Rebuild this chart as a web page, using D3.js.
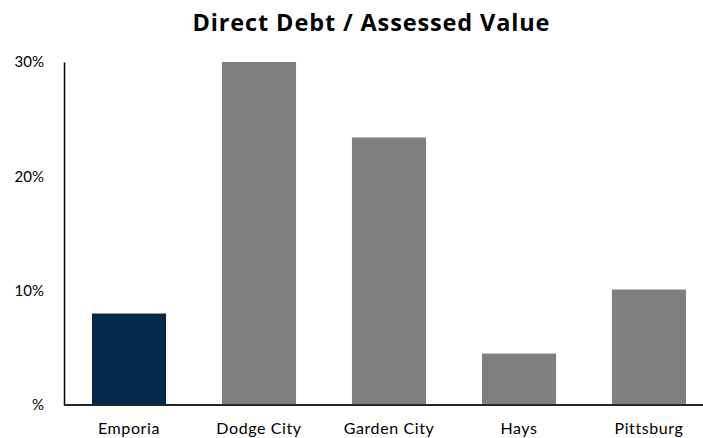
<!DOCTYPE html>
<html>
<head>
<meta charset="utf-8">
<script src="https://cdn.jsdelivr.net/npm/d3@7"></script>
<style>
  body { margin: 0; background: #fff; }
  text { font-family: Lato, "Open Sans", sans-serif; }
</style>
</head>
<body>
<div id="chart"></div>
<script>
const cities = ["Emporia", "Dodge City", "Garden City", "Hays", "Pittsburg"];
const debtRatio = [8.0, 30.0, 23.4, 4.5, 10.1];
const barColors = ["#03284a", "#7f7f7f", "#7f7f7f", "#7f7f7f", "#7f7f7f"];
const tickValues = [0, 10, 20, 30];
const tickLabels = ["%", "10%", "20%", "30%"];

const width = 703, height = 438;

const svg = d3.select("#chart").append("svg")
  .attr("width", width)
  .attr("height", height);

const x = d3.scaleBand()
  .domain(cities)
  .range([64, 714])
  .paddingInner(0.43)
  .paddingOuter(0.215);

const y = d3.scaleLinear()
  .domain([0, 30])
  .range([405, 62]);

// title
svg.append("text")
  .attr("x", 371)
  .attr("y", 31)
  .attr("text-anchor", "middle")
  .attr("textLength", 357)
  .attr("lengthAdjust", "spacing")
  .style("font-family", "'Open Sans', sans-serif")
  .style("font-size", "23.5px")
  .style("font-weight", "bold")
  .attr("fill", "#000")
  .text("Direct Debt / Assessed Value");

// bars
svg.selectAll(".bar")
  .data(cities)
  .enter().append("rect")
  .attr("class", "bar")
  .attr("x", d => x(d))
  .attr("width", x.bandwidth())
  .attr("y", (d, i) => y(debtRatio[i]))
  .attr("height", (d, i) => y(0) - y(debtRatio[i]))
  .attr("fill", (d, i) => barColors[i]);

// y axis
const yAxis = svg.append("g")
  .attr("transform", "translate(64,0)")
  .call(d3.axisLeft(y)
    .tickValues(tickValues)
    .tickSize(0)
    .tickPadding(20)
    .tickFormat((d, i) => tickLabels[i]));
yAxis.select(".domain").attr("stroke", "#000").attr("stroke-width", 1.5);
yAxis.selectAll("text")
  .style("font-size", "15px")
  .style("font-family", "Lato, sans-serif")
  .attr("fill", "#000");

// x axis
const xAxis = svg.append("g")
  .attr("transform", "translate(0,405)")
  .call(d3.axisBottom(x).tickSize(0).tickPadding(18));
xAxis.select(".domain")
  .attr("d", "M64,0H703")
  .attr("stroke", "#262626")
  .attr("stroke-width", 2);
xAxis.selectAll("text")
  .style("font-size", "16px")
  .style("font-family", "Lato, sans-serif")
  .style("letter-spacing", "0.6px")
  .attr("fill", "#000");
</script>
</body>
</html>
